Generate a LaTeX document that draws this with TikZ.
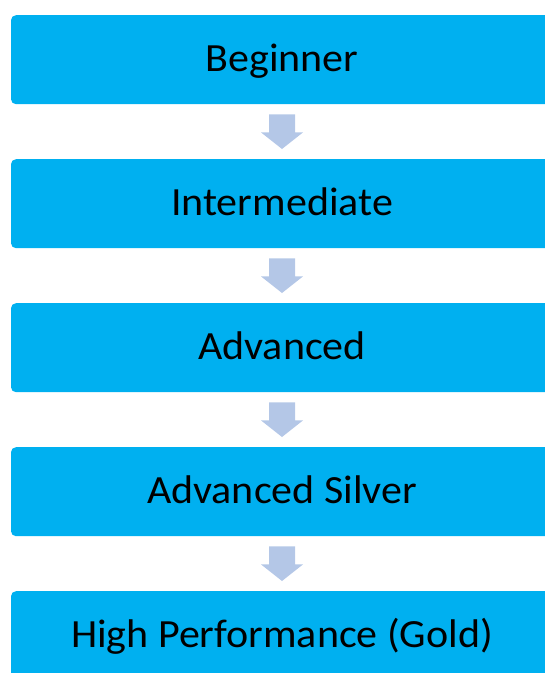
\documentclass[tikz,border=0pt]{standalone}
\usepackage{fontspec}
\setmainfont[FakeStretch=1.05]{Carlito}
\usetikzlibrary{calc}
\definecolor{boxblue}{HTML}{00B0F0}
\definecolor{arrowgrey}{HTML}{B4C7E7}
\tikzset{
  levelbox/.style={rectangle, fill=boxblue, rounded corners=5pt, minimum width=542pt,
    minimum height=89pt, inner sep=0pt, font=\fontsize{40}{48}\selectfont,
    text height=23pt, text depth=0pt, anchor=north},
  downarrow/.style={fill=arrowgrey}
}
\newcommand{\levelarrow}[2]{%
  \fill[downarrow] ($(#1.south)+(-13pt,-10pt)$) -- ($(#1.south)+(13pt,-10pt)$)
    -- ($(#1.south)+(13pt,-28pt)$) -- ($(#1.south)+(21pt,-28pt)$)
    -- ($(#2.north)+(0pt,10pt)$) -- ($(#1.south)+(-21pt,-28pt)$)
    -- ($(#1.south)+(-13pt,-28pt)$) -- cycle;}
\begin{document}
\begin{tikzpicture}[x=1pt,y=-1pt]
\useasboundingbox (0,0) rectangle (545,673);
\begin{scope}
\clip (0,0) rectangle (545,673);
\node[levelbox] (b1) at (282,15) {Beginner};
\node[levelbox] (b2) at (282,159) {Intermediate};
\node[levelbox] (b3) at (282,303) {Advanced};
\node[levelbox] (b4) at (282,447) {Advanced Silver};
\node[levelbox] (b5) at (282,591) {High Performance (Gold)};
\levelarrow{b1}{b2}
\levelarrow{b2}{b3}
\levelarrow{b3}{b4}
\levelarrow{b4}{b5}
\end{scope}
\end{tikzpicture}
\end{document}
